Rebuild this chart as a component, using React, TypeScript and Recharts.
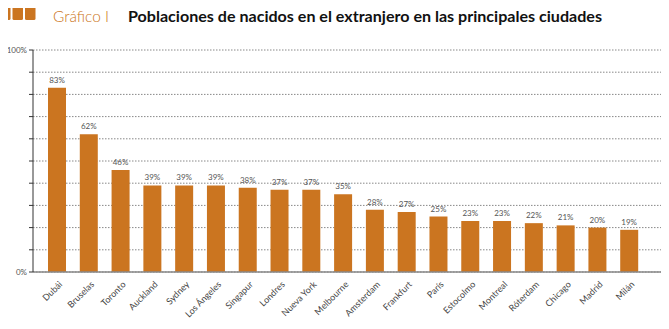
import { BarChart, Bar, XAxis, YAxis, CartesianGrid, LabelList } from "recharts";

const cities = [
  "Dubái", "Bruselas", "Toronto", "Auckland", "Sydney", "Los Ángeles", "Singapur",
  "Londres", "Nueva York", "Melbourne", "Amsterdam", "Frankfurt", "París",
  "Estocolmo", "Montreal", "Róterdam", "Chicago", "Madrid", "Milán",
];
const foreignBorn = [83, 62, 46, 39, 39, 39, 38, 37, 37, 35, 28, 27, 25, 23, 23, 22, 21, 20, 19];
const yTicks = [0, 10, 20, 30, 40, 50, 60, 70, 80, 90, 100];

const data = cities.map((city, i) => ({ city, value: foreignBorn[i] }));

const ORANGE = "#CB7520";
const FONT = "Lato, 'Open Sans', sans-serif";

const CityTick = (props: any) => {
  const { x, y, payload } = props;
  return (
    <text
      x={x + 6}
      y={y + 5}
      textAnchor="end"
      fontSize={9}
      fontFamily={FONT}
      fill="#444"
      transform={`rotate(-45, ${x + 6}, ${y + 5})`}
    >
      {payload.value}
    </text>
  );
};

// series key sits at the very bottom edge of the page
const LegendBox = () => (
  <div
    style={{
      position: "absolute",
      left: 38,
      top: 321,
      display: "flex",
      alignItems: "flex-start",
      fontFamily: FONT,
      fontSize: 9,
      lineHeight: "10px",
      color: "#555",
      whiteSpace: "nowrap",
    }}
  >
    <span style={{ width: 10, height: 10, background: ORANGE, marginRight: 5, display: "inline-block", flexShrink: 0 }} />
    <span style={{ marginTop: 2 }}>Porcentaje de la población total</span>
  </div>
);

// page header: three blocks, figure number and title
const Header = () => (
  <svg width={669} height={34} style={{ position: "absolute", left: 0, top: 0 }}>
    <rect x={0} y={0} width={10.5} height={20} rx={1.5} fill={ORANGE} />
    <rect x={12.5} y={0} width={10.5} height={20} rx={1.5} fill={ORANGE} />
    <rect x={25} y={0} width={10.5} height={20} rx={1.5} fill={ORANGE} />
    <text x={53} y={22} fontFamily={FONT} fontSize={16} fill={ORANGE} fontWeight={300} textLength={56} lengthAdjust="spacingAndGlyphs">
      Gráfico I
    </text>
    <text x={128} y={22} fontFamily={FONT} fontSize={16} fontWeight="bold" fill="#111" textLength={474} lengthAdjust="spacingAndGlyphs">
      Poblaciones de nacidos en el extranjero en las principales ciudades
    </text>
  </svg>
);

export default function App() {
  return (
    <div style={{ margin: -8, width: 669, height: 329, position: "relative", overflow: "hidden", background: "#fff" }}>
      <Header />
      <BarChart
        width={669}
        height={329}
        data={data}
        margin={{ top: 50, right: 4, bottom: 7, left: 8 }}
        style={{ position: "absolute", left: 0, top: 0 }}
      >
        <CartesianGrid vertical={false} stroke="#888" strokeDasharray="1.5 1.5" />
        <XAxis
          dataKey="city"
          interval={0}
          height={50}
          tickLine={false}
          axisLine={{ stroke: "#888", strokeWidth: 1.5 }}
          padding={{ left: 8, right: 20 }}
          tick={<CityTick />}
        />
        <YAxis
          width={25}
          domain={[0, 100]}
          ticks={yTicks}
          interval={0}
          tickSize={4}
          tickLine={{ stroke: "#333" }}
          axisLine={{ stroke: "#333" }}
          tickFormatter={(v: number) => (v === 0 || v === 100 ? `${v}%` : "")}
          tick={{ fontSize: 8, fontFamily: FONT, fill: "#555" }}
        />
        <Bar dataKey="value" fill={ORANGE} barSize={18} isAnimationActive={false}>
          <LabelList
            dataKey="value"
            position="top"
            offset={5}
            formatter={(v: any) => `${v}%`}
            style={{ fontSize: 8, fontFamily: FONT, fill: "#555" }}
          />
        </Bar>
      </BarChart>
      <LegendBox />
    </div>
  );
}
